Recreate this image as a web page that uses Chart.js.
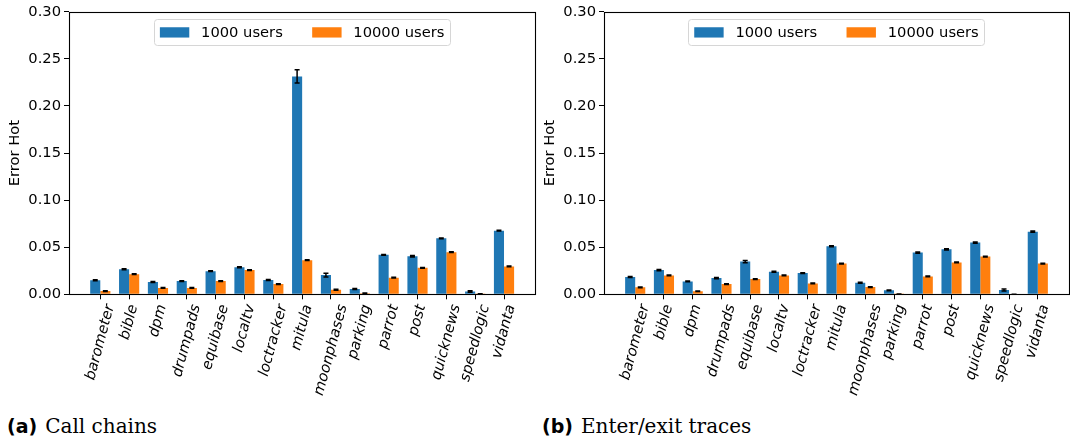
<!DOCTYPE html>
<html>
<head>
<meta charset="utf-8">
<script src="https://cdn.jsdelivr.net/npm/chart.js@4.4.1/dist/chart.umd.min.js"></script>
<style>
    body { margin: 0; background: #fff; width: 1070px; height: 443px; position: relative; overflow: hidden; }
    canvas { position: absolute; top: 0; }
    #callChart { left: 0; }
    #traceChart { left: 535px; }
    .caption { position: absolute; top: 416px; font-family: "DejaVu Serif", serif; font-size: 20px; line-height: 20px; color: #000; white-space: nowrap; }
    .caption b { font-family: "DejaVu Sans", sans-serif; font-size: 19px; margin-right: 8px; }
</style>
</head>
<body>
<canvas id="callChart" width="540" height="400"></canvas>
<canvas id="traceChart" width="535" height="400"></canvas>
<div class="caption" style="left:7px"><b>(a)</b>Call chains</div>
<div class="caption" style="left:542px"><b>(b)</b>Enter/exit traces</div>

<script>
const categories = ["barometer", "bible", "dpm", "drumpads", "equibase", "localtv", "loctracker",
    "mitula", "moonphases", "parking", "parrot", "post", "quicknews", "speedlogic", "vidanta"];
const seriesLabels = ["1000 users", "10000 users"];
const yTicks = [0, 0.05, 0.10, 0.15, 0.20, 0.25, 0.30];

// (a) call chains
const calls1000 = [0.0150, 0.0266, 0.0130, 0.0140, 0.0246, 0.0288, 0.0151, 0.2314, 0.0204, 0.0056,
    0.0419, 0.0404, 0.0594, 0.0030, 0.0676];
const calls10000 = [0.0034, 0.0213, 0.0067, 0.0067, 0.0140, 0.0257, 0.0109, 0.0362, 0.0049, 0.0010,
    0.0176, 0.0281, 0.0447, 0.0003, 0.0296];
const callsErr1000 = [0.0005, 0.0005, 0.0005, 0.0005, 0.0005, 0.0005, 0.0005, 0.0070, 0.0020, 0.0005,
    0.0005, 0.0007, 0.0005, 0.0007, 0.0005];
const callsErr10000 = [0.0004, 0.0004, 0.0004, 0.0004, 0.0004, 0.0004, 0.0004, 0.0004, 0.0005, 0.0004,
    0.0004, 0.0004, 0.0004, 0.0002, 0.0004];

// (b) enter/exit traces
const traces1000 = [0.0183, 0.0257, 0.0137, 0.0172, 0.0348, 0.0239, 0.0225, 0.0510, 0.0123, 0.0042,
    0.0443, 0.0478, 0.0549, 0.0045, 0.0665];
const traces10000 = [0.0074, 0.0200, 0.0032, 0.0109, 0.0162, 0.0200, 0.0116, 0.0327, 0.0077, 0.0001,
    0.0190, 0.0338, 0.0401, 0.0000, 0.0327];
const tracesErr1000 = [0.0005, 0.0006, 0.0005, 0.0007, 0.0012, 0.0005, 0.0005, 0.0006, 0.0006, 0.0004,
    0.0006, 0.0007, 0.0006, 0.0010, 0.0006];
const tracesErr10000 = [0.0004, 0.0004, 0.0003, 0.0004, 0.0004, 0.0004, 0.0004, 0.0004, 0.0004, 0.0001,
    0.0004, 0.0004, 0.0004, 0.0000, 0.0004];

const colors = ["#1f77b4", "#ff7f0e"];
const FONT = '"DejaVu Sans", sans-serif';
const FS = 14.7;
const ANGLE = 75 * Math.PI / 180;

// black box around the plot, like matplotlib spines
const spines = {
    id: "spines",
    afterDatasetsDraw(chart) {
        const { ctx, chartArea: a } = chart;
        ctx.save();
        ctx.strokeStyle = "#000";
        ctx.lineWidth = 1.1;
        ctx.strokeRect(Math.round(a.left) + 0.5, Math.round(a.top) + 0.5,
            Math.round(a.right - a.left), Math.round(a.bottom - a.top));
        ctx.restore();
    },
};

const errorBars = {
    id: "errorBars",
    afterDatasetsDraw(chart) {
        const ctx = chart.ctx;
        const y = chart.scales.y;
        ctx.save();
        ctx.strokeStyle = "#000";
        ctx.lineWidth = 1.5;
        chart.data.datasets.forEach((ds, d) => {
            chart.getDatasetMeta(d).data.forEach((bar, i) => {
                const v = ds.data[i].y;
                const e = ds.errors[i];
                const hi = y.getPixelForValue(v + e);
                const lo = y.getPixelForValue(Math.max(v - e, 0));
                ctx.beginPath();
                ctx.moveTo(bar.x, hi);
                ctx.lineTo(bar.x, lo);
                ctx.moveTo(bar.x - 2.5, hi);
                ctx.lineTo(bar.x + 2.5, hi);
                ctx.moveTo(bar.x - 2.5, lo);
                ctx.lineTo(bar.x + 2.5, lo);
                ctx.stroke();
            });
        });
        ctx.restore();
    },
};

// rotated category labels, centred under each tick
const slantLabels = {
    id: "slantLabels",
    afterDraw(chart) {
        const { ctx, chartArea: a } = chart;
        const x = chart.scales.x;
        ctx.save();
        ctx.font = `italic ${FS}px ${FONT}`;
        ctx.fillStyle = "#000";
        ctx.textAlign = "right";
        ctx.textBaseline = "middle";
        const h = FS * 1.15;
        categories.forEach((name, i) => {
            const w = ctx.measureText(name).width;
            const px = x.getPixelForValue(i) + w * Math.cos(ANGLE) / 2;
            const py = a.bottom + 8.5 + (h / 2) * Math.cos(ANGLE);
            ctx.save();
            ctx.translate(px, py);
            ctx.rotate(-ANGLE);
            ctx.fillText(name, 0, 0);
            ctx.restore();
        });
        ctx.restore();
    },
};

const boxLegend = {
    id: "boxLegend",
    afterDraw(chart) {
        const { ctx, chartArea: a } = chart;
        ctx.save();
        ctx.font = `${FS}px ${FONT}`;
        const pad = 0.4 * FS, hl = 2 * FS, tp = 0.8 * FS, cs = 2 * FS;
        const items = chart.data.datasets.map((ds) => ({
            text: ds.label,
            color: ds.backgroundColor,
            w: ctx.measureText(ds.label).width,
        }));
        const w = 2 * pad + items.reduce((s, it) => s + hl + tp + it.w, 0) + cs * (items.length - 1);
        const h = 2 * pad + FS;
        const x0 = (a.left + a.right) / 2 - w / 2;
        const y0 = a.top + 0.5 * FS;
        ctx.beginPath();
        ctx.roundRect(Math.round(x0) + 0.5, Math.round(y0) + 0.5, Math.round(w), Math.round(h), 3);
        ctx.fillStyle = "rgba(255,255,255,0.8)";
        ctx.fill();
        ctx.strokeStyle = "#d6d6d6";
        ctx.lineWidth = 1;
        ctx.stroke();
        const cy = y0 + h / 2;
        let cx = x0 + pad;
        ctx.textBaseline = "middle";
        items.forEach((it) => {
            ctx.fillStyle = it.color;
            ctx.fillRect(cx, cy - 0.35 * FS, hl, 0.7 * FS);
            cx += hl + tp;
            ctx.fillStyle = "#000";
            ctx.fillText(it.text, cx, cy + 1);
            cx += it.w + cs;
        });
        ctx.restore();
    },
};

function makeChart(id, blue, orange, blueErr, orangeErr, rightPad) {
    const ctx = document.getElementById(id).getContext("2d");
    const canvasHeight = ctx.canvas.height;
    return new Chart(ctx, {
        type: "bar",
        data: {
            datasets: [
                {
                    label: seriesLabels[0],
                    data: blue.map((v, i) => ({ x: i, y: v })),
                    errors: blueErr,
                    backgroundColor: colors[0],
                    borderWidth: 0,
                },
                {
                    label: seriesLabels[1],
                    data: orange.map((v, i) => ({ x: i, y: v })),
                    errors: orangeErr,
                    backgroundColor: colors[1],
                    borderWidth: 0,
                },
            ],
        },
        options: {
            responsive: false,
            animation: false,
            events: [],
            categoryPercentage: 0.7,
            barPercentage: 1.0,
            layout: { padding: { top: 10, right: rightPad, left: 0, bottom: 0 } },
            plugins: { legend: { display: false }, tooltip: { enabled: false } },
            scales: {
                x: {
                    type: "linear",
                    min: -1.085,
                    max: categories.length - 1 + 1.085,
                    offset: false,
                    grid: {
                        offset: false,
                        drawOnChartArea: false,
                        drawTicks: true,
                        tickLength: 5,
                        tickColor: "#000",
                        tickWidth: 1,
                    },
                    border: { display: false },
                    ticks: { display: false },
                    afterBuildTicks: (s) => {
                        s.ticks = categories.map((_, i) => ({ value: i }));
                    },
                    afterFit: (s) => {
                        s.height = canvasHeight - 294.3;
                    },
                },
                y: {
                    min: 0,
                    max: 0.3,
                    grid: {
                        drawOnChartArea: false,
                        tickLength: 5,
                        tickColor: "#000",
                        tickWidth: 1,
                    },
                    border: { display: false },
                    ticks: {
                        color: "#000",
                        padding: 3,
                        font: { family: FONT, size: FS },
                        callback: (v) => v.toFixed(2),
                    },
                    afterBuildTicks: (s) => {
                        s.ticks = yTicks.map((v) => ({ value: v }));
                    },
                    title: {
                        display: true,
                        text: "Error Hot",
                        color: "#000",
                        font: { family: FONT, size: FS },
                        padding: { top: 6, bottom: 0 },
                    },
                    afterFit: (s) => {
                        s.width = 69;
                    },
                },
            },
        },
        plugins: [spines, errorBars, slantLabels, boxLegend],
    });
}

makeChart("callChart", calls1000, calls10000, callsErr1000, callsErr10000, 4.7);
makeChart("traceChart", traces1000, traces10000, tracesErr1000, tracesErr10000, 1);
</script>
</body>
</html>
